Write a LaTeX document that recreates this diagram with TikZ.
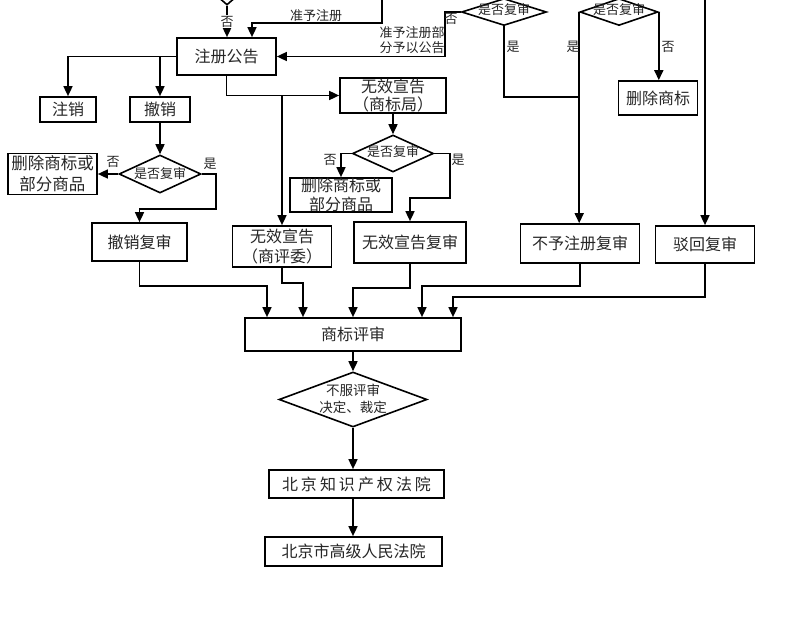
\documentclass[tikz,border=0pt]{standalone}
\usepackage{fontspec}
\setmainfont{Noto Sans CJK SC}
\usetikzlibrary{shapes.geometric,arrows.meta}
\tikzset{
  box/.style={draw, line width=1.7pt, rectangle, inner sep=0pt, align=center, text=black!85,
    font=\fontsize{16}{19}\selectfont},
  dia/.style={draw, line width=1.6pt, diamond, inner sep=0pt},
  dtext/.style={inner sep=0pt, align=center, text=black!85, font=\fontsize{13}{15}\selectfont},
  lbl/.style={inner sep=1pt, align=center, text=black!85, font=\fontsize{13}{15}\selectfont},
  arr/.style={line width=1.6pt, -{Triangle[length=10pt,width=9pt]}},
  ln/.style={line width=1.6pt},
}
\begin{document}
\begin{tikzpicture}[x=1pt,y=-1pt]
\useasboundingbox (0,0) rectangle (790,618);
\clip (0,0) rectangle (790,618);
\fill[white] (0,0) rectangle (790,618);

% boxes
\node[box, minimum width=99pt, minimum height=37pt] (zcgg) at (226.5,56.5) {注册公告};
\node[box, minimum width=56pt, minimum height=25pt] (zx) at (68,109.5) {注销};
\node[box, minimum width=60pt, minimum height=25pt] (cx) at (160,109.5) {撤销};
\node[box, minimum width=89pt, minimum height=41pt, font=\fontsize{16.5}{21}\selectfont] (scL) at (52.5,174) {删除商标或\\部分商品};
\node[box, minimum width=95pt, minimum height=38pt] (cxfs) at (139.5,242) {撤销复审};
\node[box, minimum width=106pt, minimum height=35pt, font=\fontsize{16}{18.5}\selectfont] (wxsb) at (393,95.5) {无效宣告\\（商标局）};
\node[box, minimum width=102pt, minimum height=34pt, font=\fontsize{16}{18.5}\selectfont] (scM) at (341,195) {删除商标或\\部分商品};
\node[box, minimum width=112pt, minimum height=41pt] (wxfs) at (410,242.5) {无效宣告复审};
\node[box, minimum width=99pt, minimum height=41pt, font=\fontsize{16}{20}\selectfont] (wxpw) at (282,246.5) {无效宣告\\（商评委）};
\node[box, minimum width=119pt, minimum height=39pt] (byzc) at (580,243.5) {不予注册复审};
\node[box, minimum width=99pt, minimum height=37pt] (bh) at (705,244.5) {驳回复审};
\node[box, minimum width=79pt, minimum height=34pt] (scsb) at (658,98) {删除商标};
\node[box, minimum width=216pt, minimum height=33pt] (sbps) at (353,334.5) {商标评审};
\node[box, minimum width=175pt, minimum height=28pt] (zscq) at (356.5,484)
  {北\hspace{3pt}京\hspace{3pt}知\hspace{3pt}识\hspace{3pt}产\hspace{3pt}权\hspace{3pt}法\hspace{3pt}院};
\node[box, minimum width=177pt, minimum height=29pt] (gjfy) at (353.5,551.5) {北京市高级人民法院};

% diamonds
\node[dia, minimum width=44pt, minimum height=38pt] (dTop) at (227,-14) {};
\node[dia, minimum width=85pt, minimum height=27pt] (d1) at (504,12) {};
\node[dtext] (d1t) at (504,10) {是否复审};
\node[dia, minimum width=78pt, minimum height=27pt] (d2) at (619,12) {};
\node[dtext] (d2t) at (619,10) {是否复审};
\node[dia, minimum width=82pt, minimum height=38pt] (dL) at (160,174) {};
\node[dtext] (dLt) at (160,174) {是否复审};
\node[dia, minimum width=81pt, minimum height=37pt] (dM) at (393,153.5) {};
\node[dtext] (dMt) at (393,152) {是否复审};
\node[dia, minimum width=148pt, minimum height=55pt] (dB) at (353,399.5) {};
\node[dtext, font=\fontsize{13.5}{17}\selectfont] (dBt) at (353,399) {不服评审\\决定、裁定};

% free ends
\coordinate (topA) at (382,0);
\coordinate (topAturn) at (382,23);
\coordinate (topB) at (705,0);
\path (d2.west) ++(0,85) coordinate (j1);

% top connectors
\draw[arr] (dTop.south) -- node[lbl, fill=white, inner sep=0.5pt] (noTop) {否} (dTop.south |- zcgg.north);
\draw[arr] (topA) -- (topAturn) -| ([xshift=25.5pt]zcgg.north);
\node[lbl] (lzyzc) at (316,16) {准予注册};
\draw[arr] (d1.west) -- ++(-16,0) |- (zcgg.east);
\node[lbl] (ld1no) at (451,19) {否};
\node[lbl, align=right] (lbf) at (412,40) {准予注册部\\分予以公告};
\draw[ln] (d1.south) |- (j1);
\node[lbl] (ld1yes) at (513,47) {是};
\draw[arr] (d2.west) -- (d2.west |- byzc.north);
\node[lbl] (ld2yes) at (573,47) {是};
\draw[arr] (d2.east) -- (d2.east |- scsb.north);
\node[lbl] (ld2no) at (668,47) {否};
\draw[arr] (topB) -- (bh.north);

% left branch
\draw[arr] (zcgg.west) -| (zx.north);
\draw[arr] (zcgg.west -| cx.north) -- (cx.north);
\draw[arr] (cx.south) -- (dL.north);
\draw[arr] (dL.west) -- (scL.east);
\node[lbl] (ldLno) at (113,162) {否};
\node[lbl] (ldLyes) at (210,164) {是};
\draw[arr] (dL.east) -- ++(14,0) -- ++(0,35) -| (cxfs.north);

% middle branch
\draw[arr] (zcgg.south) |- (wxsb.west);
\draw[arr] (wxpw.north |- wxsb.west) -- (wxpw.north);
\draw[arr] (wxsb.south) -- (dM.north);
\draw[arr] (dM.west) -| (scM.north);
\node[lbl] (ldMno) at (330,160) {否};
\node[lbl] (ldMyes) at (458,160) {是};
\draw[arr] (dM.east) -- ++(15.5,0) -- ++(0,44.5) -| (wxfs.north);

% to review
\draw[arr] (cxfs.south) -- ++(0,24) -| ([xshift=-86pt]sbps.north);
\draw[arr] (wxpw.south) -- ++(0,15) -| ([xshift=-50pt]sbps.north);
\draw[arr] (wxfs.south) -- ++(0,24) -| (sbps.north);
\draw[arr] (byzc.south) -- ++(0,22) -| ([xshift=69pt]sbps.north);
\draw[arr] (bh.south) -- ++(0,33) -| ([xshift=100pt]sbps.north);

% bottom chain
\draw[arr] (sbps.south) -- (dB.north);
\draw[arr] (dB.south) -- (dB.south |- zscq.north);
\draw[arr] (dB.south |- zscq.south) -- (dB.south |- gjfy.north);
\end{tikzpicture}
\end{document}
